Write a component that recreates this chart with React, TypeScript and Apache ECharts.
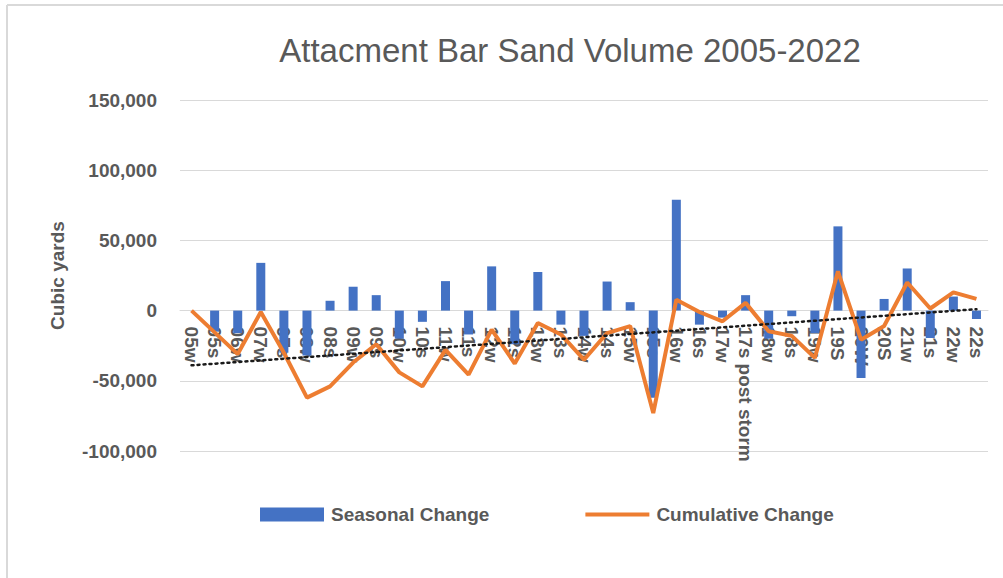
import React, { useEffect, useRef } from "react";
import * as echarts from "echarts";

const categories = ["05w","05s","06w","07w","07s","08w","08s","09w","09s","10w","10s","11w","11s","12w","12s","13w","13s","14w","14s","15w","15s","16w","16s","17w","17s post storm","18w","18s","19w","19S","20W","20S","21w","21s","22w","22s"];

const seasonalChange = [null, -15000, -16000, 34000, -30000, -32000, 7000, 17000, 11000, -20000, -8000, 21000, -17000, 31500, -24000, 27500, -10000, -18000, 20700, 6000, -62000, 79000, -10000, -5000, 11000, -20000, -4000, -16000, 60000, -48000, 8300, 30000, -19500, 10000, -6000];

const cumulativeChange = [0, -15500, -31000, -1000, -30000, -62000, -54000, -37000, -24000, -44000, -54000, -28000, -45600, -13500, -37700, -8800, -17000, -35000, -16000, -11000, -73000, 7800, -1000, -7600, 5500, -14700, -18000, -33700, 28000, -20700, -11000, 20000, 1500, 13000, 8300];

const trendStart = -39000;
const trendEnd = 1000;

const yTicks = { min: -100000, max: 150000, interval: 50000 };

const GRID_TOP = 100;
const GRID_BOTTOM = 127;
const CHART_H = 578;

export default function App() {
  const ref = useRef<HTMLDivElement>(null);
  useEffect(() => {
    if (!ref.current) return;
    const chart = echarts.init(ref.current, null, { renderer: "svg" });
    const gray = "#595959";
    const font = "'Liberation Sans', Arial, sans-serif";
    const gridH = CHART_H - GRID_TOP - GRID_BOTTOM;
    // distance from grid bottom up to the value 0
    const zeroOffset = (gridH * (0 - yTicks.min)) / (yTicks.max - yTicks.min);
    chart.setOption({
      animation: false,
      backgroundColor: "#ffffff",
      title: {
        text: "Attacment Bar Sand Volume 2005-2022",
        left: 565,
        textAlign: "center",
        top: 29,
        textStyle: { color: gray, fontSize: 33, fontWeight: "normal", fontFamily: font },
      },
      graphic: [
        { type: "line", shape: { x1: 7, y1: 5, x2: 1003, y2: 5 }, style: { stroke: "#d9d9d9", lineWidth: 2 } },
        { type: "line", shape: { x1: 7, y1: 5, x2: 7, y2: 578 }, style: { stroke: "#d9d9d9", lineWidth: 2 } },
      ],
      legend: {
        left: 255,
        top: 500,
        itemWidth: 64,
        itemHeight: 14,
        itemGap: 94,
        textStyle: { color: gray, fontSize: 19, fontWeight: "bold", fontFamily: font, padding: [0, 0, 0, 2] },
        data: [
          { name: "Seasonal Change", icon: "rect" },
          { name: "Cumulative Change", itemStyle: { opacity: 0 }, lineStyle: { width: 4, color: "#ED7D31" } },
        ],
      },
      grid: {
        left: 180,
        right: 15,
        top: GRID_TOP,
        bottom: GRID_BOTTOM,
        containLabel: false,
        outerBoundsMode: "none",
      },
      xAxis: {
        type: "category",
        data: categories,
        offset: -zeroOffset,
        axisLine: { onZero: false, lineStyle: { color: "#d9d9d9" } },
        axisTick: { show: false },
        axisLabel: {
          rotate: -90,
          interval: 0,
          margin: 16,
          color: gray,
          fontSize: 19,
          fontWeight: "bold",
          fontFamily: font,
        },
      },
      yAxis: {
        type: "value",
        min: yTicks.min,
        max: yTicks.max,
        interval: yTicks.interval,
        name: "Cubic yards",
        nameLocation: "middle",
        nameGap: 113,
        nameTextStyle: { color: gray, fontSize: 19, fontWeight: "bold", fontFamily: font },
        axisLine: { show: false },
        axisTick: { show: false },
        splitLine: { lineStyle: { color: "#d9d9d9", width: 1 } },
        axisLabel: {
          margin: 23,
          color: gray,
          fontSize: 19,
          fontWeight: "bold",
          fontFamily: font,
          formatter: (v: number) => v.toLocaleString("en-US"),
        },
      },
      series: [
        {
          name: "Seasonal Change",
          type: "bar",
          data: seasonalChange,
          barWidth: 9,
          itemStyle: { color: "#4472C4" },
        },
        {
          name: "Cumulative Change",
          type: "line",
          data: cumulativeChange,
          symbol: "none",
          lineStyle: { color: "#ED7D31", width: 4 },
          itemStyle: { color: "#ED7D31" },
          z: 3,
          markLine: {
            silent: true,
            symbol: ["none", "none"],
            label: { show: false },
            lineStyle: { color: "#1a1a1a", type: [2, 4], width: 2.5, cap: "round" },
            data: [
              [
                { coord: [categories[0], trendStart] },
                { coord: [categories[categories.length - 1], trendEnd] },
              ],
            ],
          },
        },
      ],
    });
    return () => chart.dispose();
  }, []);
  return (
    <div
      ref={ref}
      style={{ position: "absolute", left: 0, top: 0, width: 1003, height: 578, background: "#fff" }}
    />
  );
}
